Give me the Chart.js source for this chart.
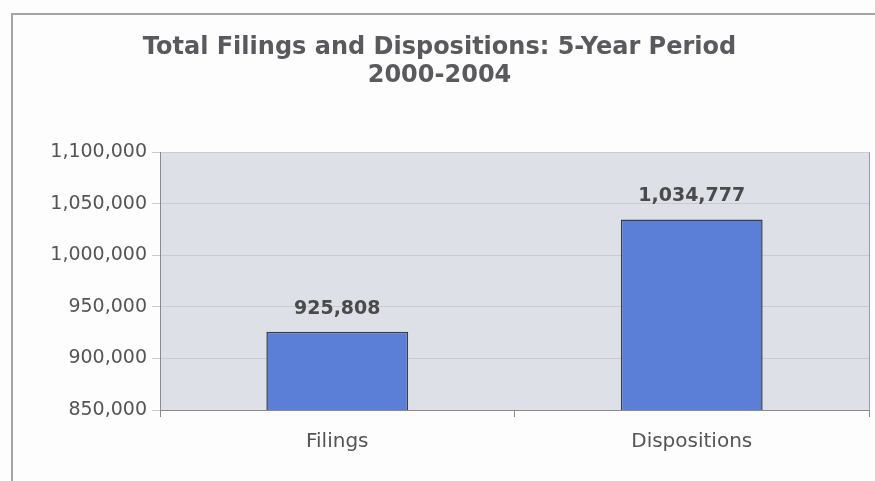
<!DOCTYPE html>
<html>
<head>
<meta charset="utf-8">
<script src="https://cdn.jsdelivr.net/npm/chart.js@4"></script>
<style>
  body { margin: 0; background: #fdfdfd; }
  #wrap { position: relative; width: 875px; height: 481px; }
  #frame { position: absolute; left: 11px; top: 13px; right: 0; bottom: 0;
           border-top: 2px solid #a4a4a4; border-left: 2px solid #a4a4a4; }
</style>
</head>
<body>
<div id="wrap">
  <div id="frame"></div>
  <canvas id="filingsChart" width="875" height="481"></canvas>
</div>
<script>
// chart data
const categories = ['Filings', 'Dispositions'];
const totals = [925808, 1034777];
const yTicks = [850000, 900000, 950000, 1000000, 1050000, 1100000];

const fmt = v => v.toLocaleString('en-US');
const FONT = '"DejaVu Sans", "Liberation Sans", Arial, sans-serif';

// light plot background, like the spreadsheet chart
const plotBg = {
    id: 'plotBg',
    beforeDraw(chart) {
        const a = chart.chartArea, c = chart.ctx;
        c.save();
        c.fillStyle = '#dee0e8';
        c.fillRect(a.left, a.top, a.right - a.left, a.bottom - a.top);
        c.strokeStyle = '#9a9aa2';
        c.lineWidth = 1;
        c.beginPath();
        c.moveTo(a.right + 0.5, a.top);
        c.lineTo(a.right + 0.5, a.bottom);
        c.stroke();
        c.restore();
    }
};

// value labels above bars
const barLabels = {
    id: 'barLabels',
    afterDatasetsDraw(chart) {
        const c = chart.ctx;
        const meta = chart.getDatasetMeta(0);
        c.save();
        c.font = 'bold 19px ' + FONT;
        c.fillStyle = '#4a4a4a';
        c.textAlign = 'center';
        c.textBaseline = 'middle';
        meta.data.forEach((bar, i) => {
            c.fillText(fmt(totals[i]), bar.x, bar.y - 23);
        });
        c.restore();
    }
};

const ctx = document.getElementById('filingsChart').getContext('2d');
new Chart(ctx, {
    type: 'bar',
    data: {
        labels: categories,
        datasets: [{
            data: totals,
            backgroundColor: '#5b7fd6',
            borderColor: '#3a3d4a',
            borderWidth: 1.5,
            barPercentage: 0.8,
            categoryPercentage: 0.5
        }]
    },
    options: {
        responsive: false,
        animation: false,
        layout: { padding: { left: 10, right: 6, top: 8, bottom: 14 } },
        plugins: {
            legend: { display: false },
            tooltip: { enabled: false },
            title: {
                display: true,
                text: ['Total Filings and Dispositions: 5-Year Period', '2000-2004'],
                color: '#5a5a5e',
                font: { family: FONT, size: 24, weight: 'bold', lineHeight: 1.15 },
                padding: { top: 26, bottom: 63 }
            }
        },
        scales: {
            x: {
                grid: { offset: true, drawOnChartArea: false, color: '#8a8a8a', tickLength: 7 },
                border: { color: '#8a8a8a' },
                ticks: {
                    color: '#555',
                    padding: 13,
                    font: { family: FONT, size: 20 }
                }
            },
            y: {
                min: yTicks[0],
                max: yTicks[yTicks.length - 1],
                afterFit(s) { s.width = 150; },
                afterBuildTicks(s) { s.ticks = yTicks.map(v => ({ value: v })); },
                grid: { color: '#c9cad2', tickLength: 8 },
                border: { color: '#8a8a8a' },
                ticks: {
                    color: '#555',
                    padding: 5,
                    font: { family: FONT, size: 19 },
                    callback: v => fmt(v)
                }
            }
        }
    },
    plugins: [plotBg, barLabels]
});
</script>
</body>
</html>
